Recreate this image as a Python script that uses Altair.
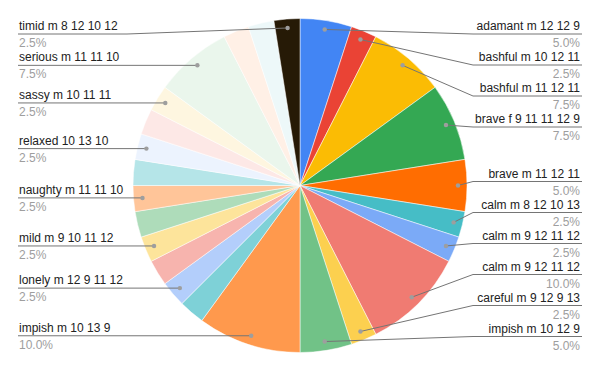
import math
import altair as alt
import pandas as pd

# ---- data (clockwise from 12 o'clock) ----
labels = [
    "adamant m 12 12 9", "bashful m 10 12 11", "bashful m 11 12 11",
    "brave f 9 11 11 12 9", "brave m 11 12 11", "calm m 8 12 10 13",
    "calm m 9 12 11 12", "calm m 9 12 11 12", "careful m 9 12 9 13",
    "impish m 10 12 9", "impish m 10 13 9", "", "lonely m 12 9 11 12", "",
    "mild m 9 10 11 12", "", "naughty m 11 11 10", "", "relaxed 10 13 10", "",
    "sassy m 10 11 11", "serious m 11 11 10", "", "", "timid m 8 12 10 12",
]
counts = [2, 1, 3, 3, 2, 1, 1, 4, 1, 2, 4, 1, 1, 1, 1, 1, 1, 1, 1, 1, 1, 3, 1, 1, 1]
colors = [
    "#4285F4", "#EA4335", "#FBBC04", "#34A853", "#FF6D01", "#46BDC6",
    "#7BAAF7", "#F07B72", "#FCD04F", "#71C287", "#FF994D", "#7ED1D7",
    "#B3CEFB", "#F7B4AE", "#FDE49B", "#AEDCBA", "#FFC599", "#B5E5E8",
    "#ECF3FE", "#FDE8E6", "#FEF6E0", "#EAF6EC", "#FFF0E6", "#EDF8F9",
    "#261A06",
]

# ---- layout (style constants) ----
W, H = 584, 355
R = 167          # pie radius
DOT_R = 158      # radius of the leader-line dots
GAP = 31         # minimum vertical gap between labels
TOP, BOTTOM = -151.5, 151.0   # label limits (screen-down, relative to centre)
BEND_X = 173     # where the underline begins
END_X = 282      # where the underline ends
TEXT_X = 280     # text edge
FONT = "Liberation Sans"

keys = [f"s{i:02d}" for i in range(len(counts))]
total = sum(counts)
arc_df = pd.DataFrame({"key": keys, "count": counts, "idx": range(len(counts))})

# compute the mid angle and dot position of each slice
rows = []
cum = 0
for i, (lab, c) in enumerate(zip(labels, counts)):
    mid = (cum + c / 2) / total * 2 * math.pi
    cum += c
    if not lab:
        continue
    dx = DOT_R * math.sin(mid)
    dy_down = -DOT_R * math.cos(mid)
    side = "R" if mid < math.pi else "L"
    rows.append(dict(key=keys[i], label=lab, pct=f"{c / total * 100:.1f}%",
                     dx=dx, sy=dy_down, side=side))

# resolve label overlaps on each side
for side in ("R", "L"):
    grp = sorted([r for r in rows if r["side"] == side], key=lambda r: r["sy"])
    pos = [r["sy"] for r in grp]
    for j in range(len(pos)):
        lo = TOP if j == 0 else pos[j - 1] + GAP
        pos[j] = max(pos[j], lo)
    for j in range(len(pos) - 1, -1, -1):
        hi = BOTTOM if j == len(pos) - 1 else pos[j + 1] - GAP
        pos[j] = min(pos[j], hi)
    for r, p in zip(grp, pos):
        r["ly"] = p

line_rows, dot_rows, text_rows = [], [], []
for r in rows:
    s = 1 if r["side"] == "R" else -1
    line_rows += [
        dict(key=r["key"], seq=0, x=r["dx"], y=-r["sy"]),
        dict(key=r["key"], seq=1, x=s * BEND_X, y=-r["ly"]),
        dict(key=r["key"], seq=2, x=s * END_X, y=-r["ly"]),
    ]
    dot_rows.append(dict(key=r["key"], x=r["dx"], y=-r["sy"]))
    text_rows.append(dict(key=r["key"], label=r["label"], pct=r["pct"],
                          x=s * TEXT_X + (0 if s == 1 else -1), y=-r["ly"],
                          side=r["side"]))

line_df = pd.DataFrame(line_rows)
dot_df = pd.DataFrame(dot_rows)
text_df = pd.DataFrame(text_rows)

xs = alt.Scale(domain=[-W / 2, W / 2], range=[0, W])
ys = alt.Scale(domain=[-H / 2, H / 2], range=[H, 0])
X = lambda: alt.X("x:Q", scale=xs, axis=None)
Y = lambda: alt.Y("y:Q", scale=ys, axis=None)

pie = alt.Chart(arc_df).mark_arc(outerRadius=R, stroke="white", strokeWidth=0.5).encode(
    theta=alt.Theta("count:Q", stack=True),
    order=alt.Order("idx:Q", sort="ascending"),
    color=alt.Color("key:N", scale=alt.Scale(domain=keys, range=colors), legend=None),
)

leaders = alt.Chart(line_df).mark_line(color="#757575", strokeWidth=1).encode(
    x=X(), y=Y(), detail="key:N", order="seq:Q",
)

dots = alt.Chart(dot_df).mark_circle(color="#9E9E9E", size=20, opacity=1).encode(
    x=X(), y=Y(),
)

right = text_df[text_df.side == "R"]
left = text_df[text_df.side == "L"]

def texts(df, align):
    lab = alt.Chart(df).mark_text(align=align, baseline="alphabetic", dy=-4,
                                  font=FONT, fontSize=12, color="#222222").encode(
        x=X(), y=Y(), text="label:N")
    pct = alt.Chart(df).mark_text(align=align, baseline="alphabetic", dy=13,
                                  font=FONT, fontSize=12, color="#9E9E9E").encode(
        x=X(), y=Y(), text="pct:N")
    return [lab, pct]

chart = alt.layer(
    pie, leaders, dots, *texts(right, "right"), *texts(left, "left")
).properties(
    width=W, height=H, padding=0, autosize=alt.AutoSizeParams(type="none"),
).configure_view(stroke=None)

chart.save("out.html", embed_options={"renderer": "svg", "actions": False})
